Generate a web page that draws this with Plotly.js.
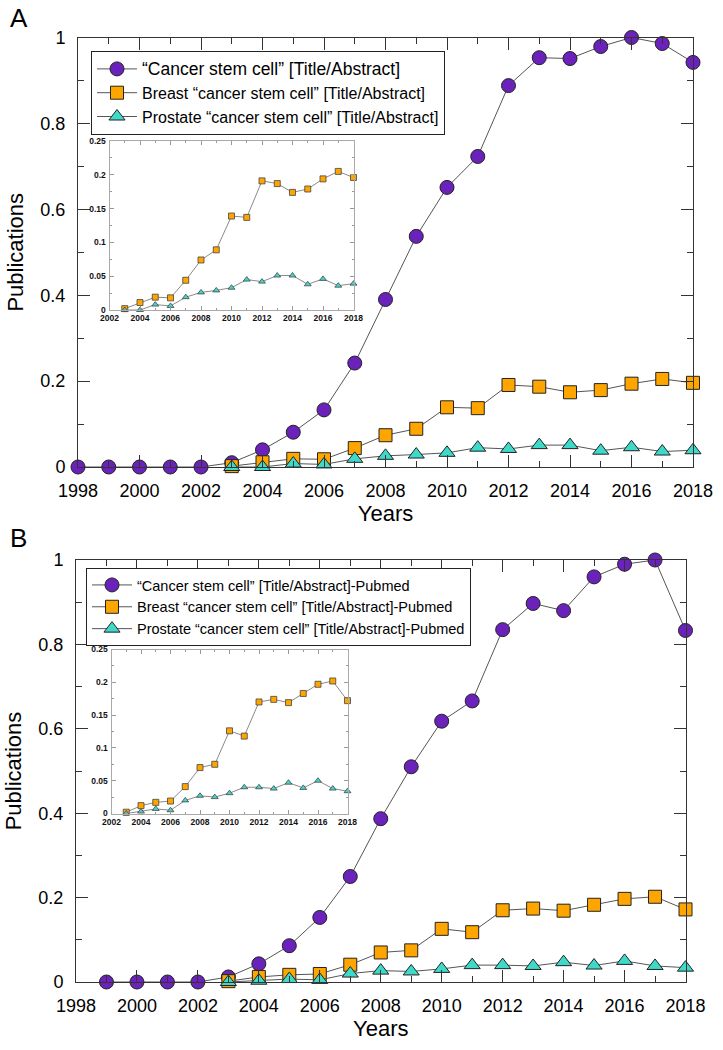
<!DOCTYPE html>
<html>
<head>
<meta charset="utf-8">
<script src="https://cdn.plot.ly/plotly-3.0.1.min.js"></script>
<style>html,body{margin:0;padding:0;background:#fff;}#chart{width:723px;height:1050px;}</style>
</head>
<body>
<div id="chart"></div>
<script>
// ---- data ----
const yearsA_all = [1998,1999,2000,2001,2002,2003,2004,2005,2006,2007,2008,2009,2010,2011,2012,2013,2014,2015,2016,2017,2018];
const yearsB_all = [1999,2000,2001,2002,2003,2004,2005,2006,2007,2008,2009,2010,2011,2012,2013,2014,2015,2016,2017,2018];
const yearsSub = [2003,2004,2005,2006,2007,2008,2009,2010,2011,2012,2013,2014,2015,2016,2017,2018];

const cscA = [0,0,0,0,0,0.010,0.040,0.081,0.133,0.242,0.390,0.537,0.651,0.723,0.888,0.953,0.951,0.979,1.000,0.986,0.942];
const breastA = [0.002,0.011,0.019,0.018,0.044,0.074,0.089,0.139,0.137,0.191,0.187,0.174,0.179,0.194,0.205,0.196];
const prostateA = [0,0,0.008,0.006,0.019,0.026,0.029,0.033,0.045,0.042,0.051,0.051,0.038,0.046,0.036,0.039];

const cscB = [0,0,0,0,0.012,0.043,0.086,0.153,0.250,0.387,0.510,0.618,0.666,0.835,0.897,0.880,0.960,0.990,1.000,0.833];
const breastB = [0.002,0.012,0.017,0.019,0.041,0.070,0.075,0.126,0.118,0.170,0.174,0.169,0.183,0.197,0.202,0.172];
const prostateB = [0,0.003,0.007,0.005,0.020,0.027,0.025,0.031,0.040,0.040,0.038,0.047,0.039,0.050,0.038,0.034];

const namesA = ['<span style="font-size:17.5px">“Cancer stem cell” [Title/Abstract]</span>',
                'Breast “cancer stem cell” [Title/Abstract]',
                'Prostate “cancer stem cell” [Title/Abstract]'];
const namesB = ['“Cancer stem cell” [Title/Abstract]-Pubmed',
                'Breast “cancer stem cell” [Title/Abstract]-Pubmed',
                'Prostate “cancer stem cell” [Title/Abstract]-Pubmed'];

// ---- styles ----
const FONT = 'Liberation Sans, Arial, Helvetica, sans-serif';
const PURPLE = '#6a22ba', ORANGE = '#ffa500', TEAL = '#3fd9c9';
const LINE = '#555';
const OUT = '#222';

function mainTrace(x, y, name, color, symbol, size, xa, ya, leg) {
  return {x, y, name, type:'scatter', mode:'lines+markers', xaxis:xa, yaxis:ya, legend:leg,
    cliponaxis:false,
    line:{color:LINE, width:1},
    marker:{color:color, symbol:symbol, size:size, line:{color:OUT, width:1}}};
}
function insetTrace(x, y, color, symbol, size, xa, ya) {
  return {x, y, type:'scatter', mode:'lines+markers', xaxis:xa, yaxis:ya, showlegend:false,
    cliponaxis:false, hoverinfo:'skip',
    line:{color:'#8a8a8a', width:1},
    marker:{color:color, symbol:symbol, size:size, line:{color:'#444', width:0.8}}};
}

const data = [
  mainTrace(yearsA_all, cscA, namesA[0], PURPLE, 'circle', 14, 'x', 'y', 'legend'),
  mainTrace(yearsSub, breastA, namesA[1], ORANGE, 'square', 13, 'x', 'y', 'legend'),
  mainTrace(yearsSub, prostateA, namesA[2], TEAL, 'triangle-up', 14, 'x', 'y', 'legend'),
  insetTrace(yearsSub, breastA, ORANGE, 'square', 6, 'x2', 'y2'),
  insetTrace(yearsSub, prostateA, TEAL, 'triangle-up', 6, 'x2', 'y2'),
  mainTrace(yearsB_all, cscB, namesB[0], PURPLE, 'circle', 14, 'x3', 'y3', 'legend2'),
  mainTrace(yearsSub, breastB, namesB[1], ORANGE, 'square', 13, 'x3', 'y3', 'legend2'),
  mainTrace(yearsSub, prostateB, namesB[2], TEAL, 'triangle-up', 14, 'x3', 'y3', 'legend2'),
  insetTrace(yearsSub, breastB, ORANGE, 'square', 6, 'x4', 'y4'),
  insetTrace(yearsSub, prostateB, TEAL, 'triangle-up', 6, 'x4', 'y4')
];

const W = 723, H = 1050;
const px = v => v / W;
const py = v => 1 - v / H;

function mainX(domain, anchor) {
  return {domain, anchor, range:[1998,2018], tick0:1998, dtick:2, ticks:'inside', ticklen:12, tickwidth:1,
    tickcolor:'#333', showline:true, linecolor:'#333', linewidth:1, mirror:'ticks',
    minor:{dtick:1, ticks:'inside', ticklen:6, tickcolor:'#333', tickwidth:1},
    showgrid:false, zeroline:false, tickfont:{size:18, color:'#000', family:FONT}, ticklabelstandoff:7,
    title:{text:'Years', font:{size:22, color:'#000', family:FONT}, standoff:2}};
}
function mainY(domain, anchor) {
  return {domain, anchor, range:[0,1], tick0:0, dtick:0.2, ticks:'inside', ticklen:12, tickwidth:1,
    tickcolor:'#333', showline:true, linecolor:'#333', linewidth:1, mirror:'ticks',
    minor:{dtick:0.1, ticks:'inside', ticklen:6, tickcolor:'#333', tickwidth:1},
    showgrid:false, zeroline:false, tickfont:{size:18, color:'#000', family:FONT}, ticklabelstandoff:8,
    title:{text:'Publications', font:{size:22, color:'#000', family:FONT}, standoff:10}};
}
function insetX(domain, anchor) {
  return {domain, anchor, range:[2002,2018], tick0:2002, dtick:2, ticks:'inside', ticklen:4, tickwidth:1,
    tickcolor:'#999', showline:true, linecolor:'#aaa', linewidth:1, mirror:'ticks',
    minor:{dtick:1, ticks:'inside', ticklen:2, tickcolor:'#999'},
    showgrid:false, zeroline:false, tickfont:{size:8.5, color:'#111', family:FONT, weight:'bold'}, ticklabelstandoff:0};
}
function insetY(domain, anchor) {
  return {domain, anchor, range:[0,0.25], tick0:0, dtick:0.05, ticks:'inside', ticklen:4, tickwidth:1,
    tickcolor:'#999', showline:true, linecolor:'#aaa', linewidth:1, mirror:'ticks',
    minor:{dtick:0.025, ticks:'inside', ticklen:2, tickcolor:'#999'},
    showgrid:false, zeroline:false, tickfont:{size:8.5, color:'#111', family:FONT, weight:'bold'}, ticklabelstandoff:1};
}

const layout = {
  width:W, height:H, margin:{l:0, r:0, t:0, b:0},
  paper_bgcolor:'#fff', plot_bgcolor:'rgba(0,0,0,0)',
  font:{family:FONT, color:'#000'},
  showlegend:true,
  xaxis: mainX([px(78), px(693)], 'y'),
  yaxis: mainY([py(467), py(37.5)], 'x'),
  xaxis2: insetX([px(109.5), px(353.5)], 'y2'),
  yaxis2: insetY([py(310), py(141)], 'x2'),
  xaxis3: mainX([px(76), px(685.5)], 'y3'),
  yaxis3: mainY([py(982), py(560)], 'x3'),
  xaxis4: insetX([px(111.5), px(347.5)], 'y4'),
  yaxis4: insetY([py(813.5), py(649.5)], 'x4'),
  legend: {x:px(91), y:py(51), xanchor:'left', yanchor:'top', bgcolor:'#fff', bordercolor:'#222', borderwidth:1,
    itemwidth:40, font:{size:16, color:'#000', family:FONT}, itemclick:false},
  legend2: {x:px(86), y:py(568), xanchor:'left', yanchor:'top', bgcolor:'#fff', bordercolor:'#222', borderwidth:1,
    itemwidth:40, font:{size:14.5, color:'#000', family:FONT}, itemclick:false},
  annotations: [
    {text:'A', xref:'paper', yref:'paper', x:px(8), y:py(1), xanchor:'left', yanchor:'top', showarrow:false, font:{size:26, color:'#000', family:FONT}},
    {text:'B', xref:'paper', yref:'paper', x:px(8), y:py(521), xanchor:'left', yanchor:'top', showarrow:false, font:{size:26, color:'#000', family:FONT}}
  ]
};

Plotly.newPlot('chart', data, layout, {staticPlot:true, displayModeBar:false});
</script>
</body>
</html>
